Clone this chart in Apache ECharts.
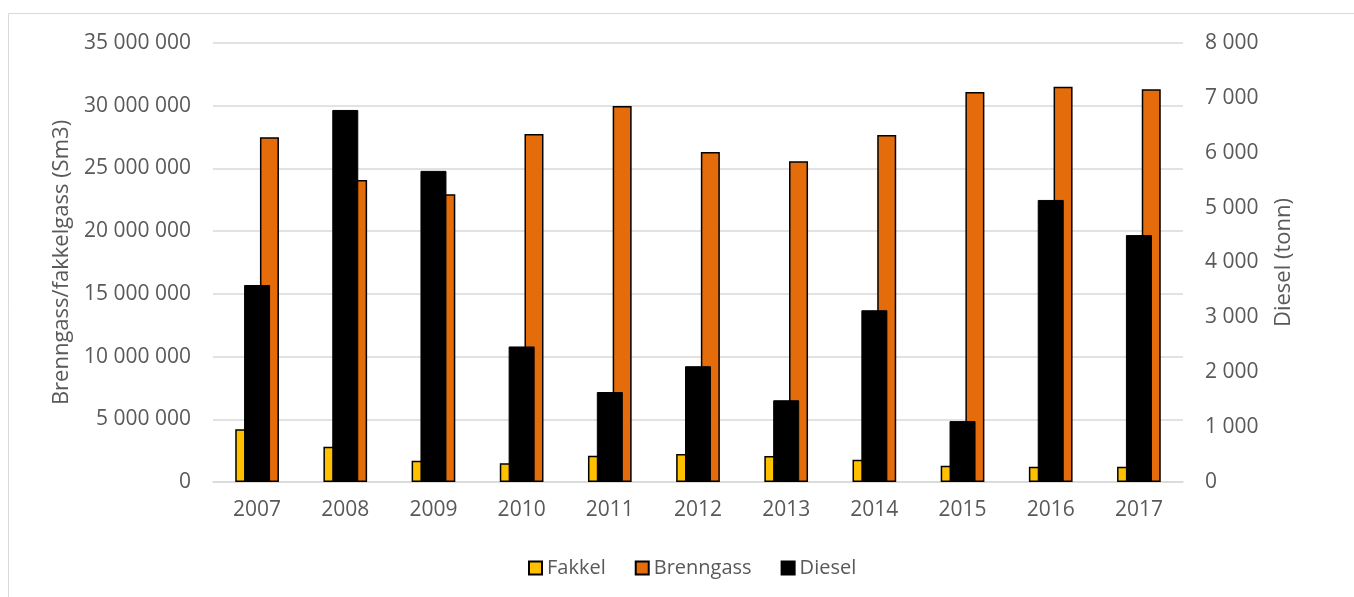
<!DOCTYPE html>
<html>
<head>
<meta charset="utf-8">
<script src="https://cdn.jsdelivr.net/npm/echarts@6/dist/echarts.min.js"></script>
<style>
  html, body { margin: 0; padding: 0; background: #ffffff; }
  #chart { width: 1354px; height: 597px; }
</style>
</head>
<body>
<div id="chart"></div>
<script>
// Years on the category axis
const years = ['2007', '2008', '2009', '2010', '2011', '2012', '2013', '2014', '2015', '2016', '2017'];
// Flare gas (Sm3), left axis
const fakkel = [4200000, 2810000, 1700000, 1490000, 2100000, 2230000, 2070000, 1780000, 1300000, 1220000, 1220000];
// Fuel gas (Sm3), left axis
const brenngass = [27480000, 24080000, 22940000, 27750000, 29980000, 26310000, 25570000, 27670000, 31090000, 31520000, 31310000];
// Diesel (tonnes), right axis
const diesel = [3590, 6780, 5670, 2470, 1640, 2110, 1490, 3130, 1110, 5140, 4500];

const FONT = '"Open Sans", "Liberation Sans", sans-serif';
const TEXT = '#595959';
const GRID = '#d9d9d9';

// thousands separated by a space: 35 000 000
function spaced(v) {
  return String(Math.round(v)).replace(/\B(?=(\d{3})+(?!\d))/g, ' ');
}

const chart = echarts.init(document.getElementById('chart'), null, { renderer: 'canvas' });

chart.setOption({
  backgroundColor: '#ffffff',
  animation: false,
  textStyle: { fontFamily: FONT, color: TEXT },
  graphic: [{
    type: 'rect',
    shape: { x: 8.5, y: 13.5, width: 2000, height: 2000 },
    style: { fill: 'none', stroke: GRID, lineWidth: 1 },
    silent: true,
    z: -10
  }],
  grid: { left: 213, right: 171, top: 43, bottom: 115, containLabel: false },
  legend: {
    left: 523,
    top: 553,
    itemWidth: 13,
    itemHeight: 13,
    itemGap: 29,
    icon: 'rect',
    textStyle: { fontFamily: FONT, fontSize: 20, color: TEXT },
    data: ['Fakkel', 'Brenngass', 'Diesel']
  },
  xAxis: [{
    type: 'category',
    data: years,
    axisLine: { lineStyle: { color: GRID, width: 1.5 } },
    axisTick: { show: false },
    axisLabel: { fontFamily: FONT, fontSize: 21, color: TEXT, margin: 18 }
  }, {
    type: 'category',
    data: years,
    show: false
  }],
  yAxis: [{
    type: 'value',
    min: 0,
    max: 35000000,
    interval: 5000000,
    name: 'Brenngass/fakkelgass (Sm3)',
    nameLocation: 'middle',
    nameRotate: 90,
    nameGap: 140,
    nameTextStyle: { fontFamily: FONT, fontSize: 22, color: TEXT },
    axisLine: { show: false },
    axisTick: { show: false },
    splitLine: { lineStyle: { color: GRID, width: 1.5 } },
    axisLabel: { fontFamily: FONT, fontSize: 21, color: TEXT, margin: 22, formatter: spaced }
  }, {
    type: 'value',
    min: 0,
    max: 8000,
    interval: 1000,
    position: 'right',
    name: 'Diesel (tonn)',
    nameLocation: 'middle',
    nameRotate: 90,
    nameGap: 90,
    nameTextStyle: { fontFamily: FONT, fontSize: 22, color: TEXT },
    axisLine: { show: false },
    axisTick: { show: false },
    splitLine: { show: false },
    axisLabel: { fontFamily: FONT, fontSize: 21, color: TEXT, margin: 22, formatter: spaced }
  }],
  series: [{
    name: 'Fakkel',
    type: 'bar',
    xAxisIndex: 0,
    yAxisIndex: 0,
    data: fakkel,
    barWidth: 19,
    barGap: '30%',
    itemStyle: { color: '#FFC000', borderColor: '#000000', borderWidth: 1.5 }
  }, {
    name: 'Brenngass',
    type: 'bar',
    xAxisIndex: 0,
    yAxisIndex: 0,
    data: brenngass,
    barWidth: 19,
    itemStyle: { color: '#E46C0A', borderColor: '#000000', borderWidth: 1.5 }
  }, {
    name: 'Diesel',
    type: 'bar',
    xAxisIndex: 1,
    yAxisIndex: 1,
    data: diesel,
    barWidth: 26,
    itemStyle: { color: '#000000', borderColor: '#000000', borderWidth: 1 }
  }]
});
</script>
</body>
</html>
